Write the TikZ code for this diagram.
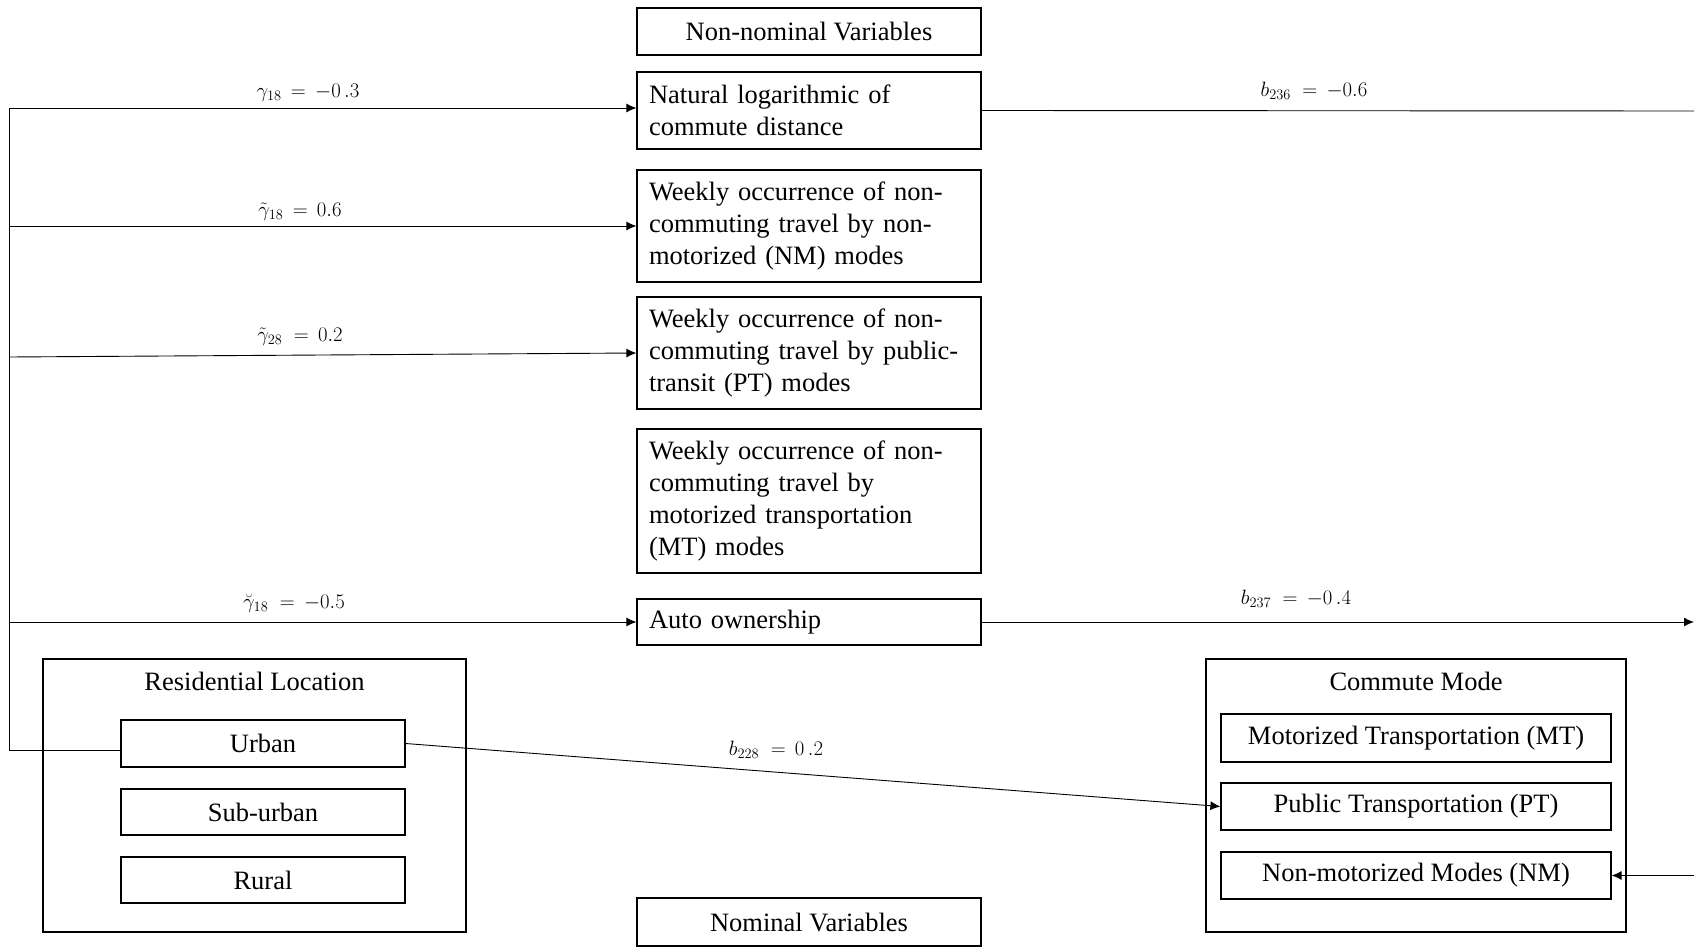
\documentclass[tikz,border=0pt]{standalone}
\usepackage{fontspec}
\setmainfont{Liberation Serif}
\usetikzlibrary{arrows.meta}
\begin{document}
\begin{tikzpicture}[x=1pt,y=-1pt,
  box/.style={draw,line width=1.2pt,inner sep=0pt,font=\fontsize{26.5}{32}\selectfont},
  lbox/.style={box,align=left,text width=320pt,minimum width=344pt,inner xsep=12pt},
  cbox/.style={box,align=center,minimum width=344pt},
  grp/.style={draw,line width=1.2pt,minimum width=423pt,minimum height=273pt},
  conn/.style={line width=0.9pt},
  arr/.style={conn,-{Latex[length=10pt,width=9pt]}},
  lab/.style={font=\fontsize{22}{24}\selectfont,inner sep=0pt}]
\useasboundingbox (0,0) rectangle (1694,947);
% non-nominal column
\node[cbox,minimum height=47pt] (nonnom) at (809,31.5) {Non-nominal Variables};
\node[lbox,minimum height=77pt] (natlog) at (809,110.5) {Natural logarithmic of\\commute distance};
\node[lbox,minimum height=112pt] (wnm) at (809,226) {Weekly occurrence of non-\\commuting travel by non-\\motorized (NM) modes};
\node[lbox,minimum height=112pt] (wpt) at (809,353) {Weekly occurrence of non-\\commuting travel by public-\\transit (PT) modes};
\node[lbox,minimum height=144pt] (wmt) at (809,501) {Weekly occurrence of non-\\commuting travel by\\motorized transportation\\(MT) modes};
\node[lbox,minimum height=46pt] (auto) at (809,622) {Auto ownership};
\node[cbox,minimum height=48pt] (nom) at (809,922) {Nominal Variables};
% residential location
\node[grp] (resgrp) at (254.5,795.5) {};
\node[box,draw=none] (restitle) at (254.5,681) {Residential Location};
\node[cbox,minimum width=284pt,minimum height=47pt] (urban) at (263,743.5) {Urban};
\node[cbox,minimum width=284pt,minimum height=46pt] (suburban) at (263,812) {Sub-urban};
\node[cbox,minimum width=284pt,minimum height=46pt] (rural) at (263,880) {Rural};
% commute mode
\node[grp,minimum width=420pt] (cmgrp) at (1416,795.5) {};
\node[box,draw=none] (cmtitle) at (1416,681) {Commute Mode};
\node[cbox,minimum width=390pt,minimum height=48pt] (mt) at (1416,738) {Motorized Transportation (MT)};
\node[cbox,minimum width=390pt,minimum height=47pt] (pt) at (1416,806.5) {Public Transportation (PT)};
\node[cbox,minimum width=390pt,minimum height=47pt] (nm) at (1416,875.5) {Non-motorized Modes (NM)};
% left spine
\coordinate (L1) at (9,108);
\coordinate (L2) at (9,226);
\coordinate (L3) at (9,357);
\coordinate (L4) at (9,622);
\coordinate (Lb) at (9,750);
\draw[conn] (L1) -- (Lb);
\draw[conn] (Lb) -- (Lb -| urban.west);
\draw[arr] (L1) -- (L1 -| natlog.west);
\draw[arr] (L2) -- (wnm.west);
\draw[arr] (L3) -- (wpt.west);
\draw[arr] (L4) -- (auto.west);
% right
\coordinate (R1) at (1694,111);
\coordinate (R2) at (1694,622);
\coordinate (R3) at (1694,875.5);
\draw[conn] (natlog.east) -- (R1);
\draw[arr] (auto.east) -- (R2);
\draw[arr] (R3) -- (nm.east);
\draw[arr] (urban.east) -- (pt.west);
% labels
\node[lab] (g1) at (308,93) {$\gamma_{18}\,=\,-0\,.3$};
\node[lab] (g2) at (300,212) {$\tilde{\gamma}_{18}\,=\,0.6$};
\node[lab] (g3) at (300,337) {$\tilde{\gamma}_{28}\;=\,0.2$};
\node[lab] (g4) at (294,603) {$\breve{\gamma}_{18}\;=\,-0.5$};
\node[lab] (b1) at (1314,91) {$b_{236}\;=\,-0.6$};
\node[lab] (b2) at (1296,599) {$b_{237}\;=\,-0\,.4$};
\node[lab] (b3) at (776,750) {$b_{228}\;=\,0\,.2$};
\end{tikzpicture}
\end{document}
